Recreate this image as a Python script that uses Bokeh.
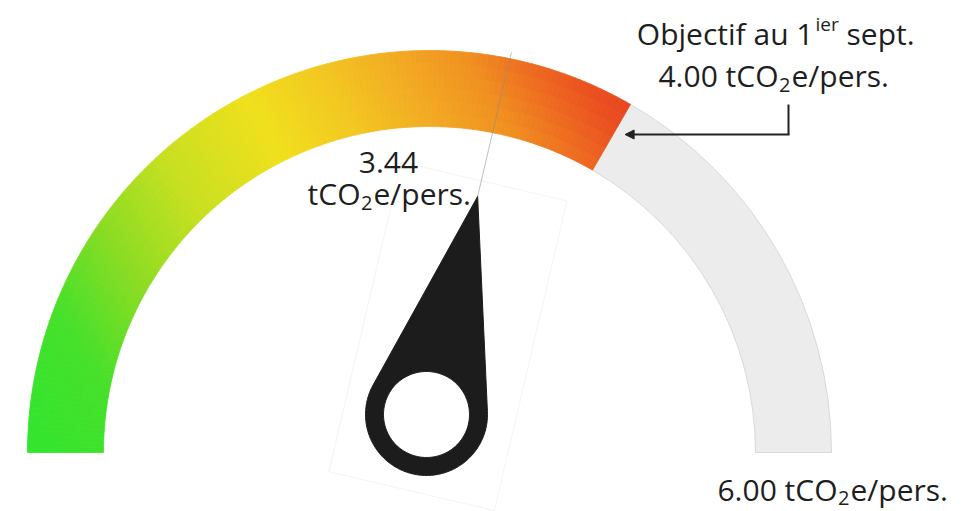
import numpy as np
from bokeh.plotting import figure
from bokeh.models import Range1d, Arrow, NormalHead
from bokeh.core.properties import value
from bokeh.embed import file_html
from bokeh.resources import INLINE

# ---------------- data ----------------
scale_min = 0.00
scale_max = 6.00
current_value = 3.44
target_value = 4.00
unit_parts = ["tCO", "2", "e/pers."]              # tCO2e/pers. (2 as subscript)
caption_parts = ["Objectif au 1", "ier", "sept."]  # 1^ier as superscript

# ---------------- layout (1 unit = 1 px, y up) ----------------
W, H = 960, 511


def Y(ypix):
    return 511 - ypix


CX, CY = 429, Y(452)          # arc centre
R_IN, R_OUT = 326, 402        # arc radii
PX, PY = 426, Y(414)          # needle pivot
NEEDLE_LEN = 224
HUB_R, HOLE_R = 61, 43
TXT = "#1e1e1e"
FONT = value("Open Sans")


def ang(v):
    return np.pi * (1 - (v - scale_min) / (scale_max - scale_min))


p = figure(width=W, height=H, x_range=Range1d(0, W), y_range=Range1d(Y(H), Y(0)),
           output_backend="svg", toolbar_location=None, min_border=0,
           x_axis_location=None, y_axis_location=None)
p.grid.visible = False
p.outline_line_color = None
p.background_fill_color = "white"
p.border_fill_color = "white"

# ---- remaining (grey) part of the gauge ----
p.annular_wedge(x=CX, y=CY, inner_radius=R_IN, outer_radius=R_OUT,
                start_angle=ang(scale_max), end_angle=ang(target_value),
                fill_color="#ececec", line_color="#d9d9d9", line_width=1)

# ---- gradient part of the gauge (min -> target) ----
stops_s = [-360, -250, -170, -80, 20, 100, 170, 230, 280, 320, 360]
stops_c = ["#2ee62e", "#46e02a", "#8adc22", "#c8e020", "#f0e01c",
           "#f2c621", "#f2a922", "#f09020", "#ee6a20", "#ea5020", "#e6401e"]
stops_rgb = np.array([[int(c[i:i + 2], 16) for i in (1, 3, 5)] for c in stops_c], float)
PHI = np.radians(30)


def grad_color(s):
    rgb = [np.interp(s, stops_s, stops_rgb[:, k]) for k in range(3)]
    return "#%02x%02x%02x" % tuple(int(round(c)) for c in rgb)


n_a, n_r = 150, 6
a_edges = np.linspace(ang(target_value), ang(scale_min), n_a + 1)
r_edges = np.linspace(R_IN, R_OUT, n_r + 1)
sa, ea, ri, ro, cols = [], [], [], [], []
for i in range(n_a):
    for j in range(n_r):
        am = 0.5 * (a_edges[i] + a_edges[i + 1])
        rm = 0.5 * (r_edges[j] + r_edges[j + 1])
        sa.append(a_edges[i])
        ea.append(a_edges[i + 1])
        ri.append(r_edges[j])
        ro.append(r_edges[j + 1])
        cols.append(grad_color(rm * np.cos(am - PHI)))
p.annular_wedge(x=CX, y=CY, inner_radius=ri, outer_radius=ro,
                start_angle=sa, end_angle=ea, fill_color=cols,
                line_color=cols, line_width=0.8)

# ---- needle ----
alpha = ang(current_value)
ax, ay = np.cos(alpha), np.sin(alpha)
nx, ny = np.sin(alpha), -np.cos(alpha)
tip_x, tip_y = PX + NEEDLE_LEN * ax, PY + NEEDLE_LEN * ay

# faint image box around needle
box_u = [-78, 240, 240, -78, -78]
box_v = [-82, -82, 88, 88, -82]
p.line([PX + u * ax + v * nx for u, v in zip(box_u, box_v)],
       [PY + u * ay + v * ny for u, v in zip(box_u, box_v)],
       line_color="#f4f4f4", line_width=1)

# thin pointer line up to the arc
p.line([tip_x, PX + 372 * ax], [tip_y, PY + 372 * ay],
       line_color="#8a8a8a", line_alpha=0.55, line_width=1)

gamma = np.arccos(HUB_R / NEEDLE_LEN)
th = np.linspace(alpha + gamma, alpha + 2 * np.pi - gamma, 160)
outer_x = [tip_x] + list(PX + HUB_R * np.cos(th))
outer_y = [tip_y] + list(PY + HUB_R * np.sin(th))
th2 = np.linspace(0, 2 * np.pi, 160)
hole_x = list(PX + HOLE_R * np.cos(th2))
hole_y = list(PY + HOLE_R * np.sin(th2))
p.multi_polygons(xs=[[[outer_x, hole_x]]], ys=[[[outer_y, hole_y]]],
                 fill_color="#1c1c1c", line_color="#1c1c1c", line_width=1)

# ---- texts ----
MAIN, SMALL, SUP = "30px", "20px", "19px"


def txt(x, y, t, align, size=MAIN):
    p.text(x=[x], y=[y], text=[t], text_font=FONT, text_font_size=size,
           text_color=TXT, text_align=align, text_baseline="alphabetic")


def unit_line(x_sub, base_pix, prefix, drop=9):
    txt(x_sub, Y(base_pix), prefix + unit_parts[0], "right")
    txt(x_sub + 0.5, Y(base_pix + drop), unit_parts[1], "left", SMALL)
    txt(x_sub + 13, Y(base_pix), unit_parts[2], "left")


# current value
txt(388, Y(162), f"{current_value:.2f}", "center")
unit_line(360, 193, "")

# target caption
txt(813, Y(33), caption_parts[0], "right")
txt(815, Y(23), caption_parts[1], "left", SUP)
txt(846, Y(33), caption_parts[2], "left")
unit_line(778, 75, f"{target_value:.2f} ")

# max label
unit_line(837, 489, f"{scale_max:.2f} ", drop=8)

# ---- arrow to target ----
ARROW_YPIX, ARROW_XV = 134, 788
arrow_y = Y(ARROW_YPIX)
edge_x = CX + (arrow_y - CY) / np.tan(ang(target_value))
p.segment(x0=[ARROW_XV], y0=[Y(104)], x1=[ARROW_XV], y1=[arrow_y],
          line_color="#222222", line_width=2)
p.add_layout(Arrow(x_start=ARROW_XV + 1, y_start=arrow_y, x_end=edge_x + 12, y_end=arrow_y,
                   line_color="#222222", line_width=2,
                   end=NormalHead(size=9, fill_color="#222222", line_color="#222222")))

open("out.html", "w").write(file_html(p, INLINE))
